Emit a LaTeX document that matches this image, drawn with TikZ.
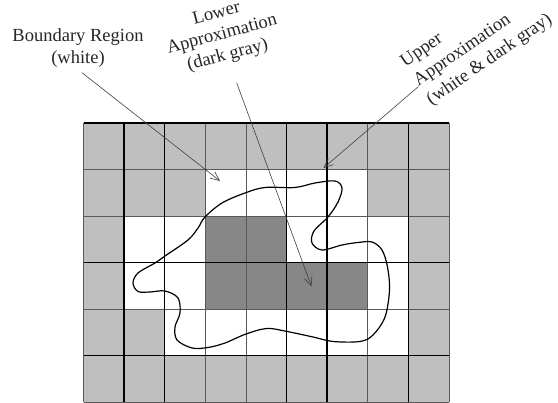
\documentclass[tikz,border=0pt]{standalone}
\usepackage{fontspec}
\setmainfont{Liberation Serif}
\usepackage{tikz}
\usetikzlibrary{arrows.meta}

\colorlet{outgray}{black!25}
\colorlet{bndwhite}{white}
\colorlet{lowdark}{black!47}
\tikzset{
  gridline/.style={draw=black!65,line width=0.8pt},
  gridbold/.style={draw=black,line width=1.4pt},
  pointer/.style={draw=black!75,line width=0.6pt,-{Straight Barb[length=9pt,width=8pt]}},
  regiontext/.style={text=black!85,font=\fontsize{18.5}{#1}\selectfont,inner sep=2pt},
  regiontext/.default=22
}

\begin{document}
\begin{tikzpicture}[x=1pt,y=1pt]
        \useasboundingbox (0,0) rectangle (558,403);
        % cells of the grid
        \foreach \cells [count=\r from 0] in {
            {outgray,outgray,outgray,outgray,outgray,outgray,outgray,outgray,outgray},
            {outgray,outgray,outgray,bndwhite,bndwhite,bndwhite,bndwhite,outgray,outgray},
            {outgray,bndwhite,bndwhite,lowdark,lowdark,bndwhite,bndwhite,bndwhite,outgray},
            {outgray,bndwhite,bndwhite,lowdark,lowdark,lowdark,lowdark,bndwhite,outgray},
            {outgray,outgray,bndwhite,bndwhite,bndwhite,bndwhite,bndwhite,bndwhite,outgray},
            {outgray,outgray,outgray,outgray,outgray,outgray,outgray,outgray,outgray}}
            \foreach \c [count=\k from 0] in \cells
                \fill[fill=\c] (83.5+\k*40.6,280-\r*46.5) rectangle ++(40.6,-46.5);
        % grid lines
        \foreach \i in {0,...,9}
            \draw[gridline] (83.5+\i*40.6,280) -- ++(0,-279);
        \foreach \j in {0,...,6}
            \draw[gridline] (83.5,280-\j*46.5) -- ++(365.4,0);
        \foreach \i in {1,2,5,6,8}
            \draw[gridbold] (83.5+\i*40.6,280) -- ++(0,-279);
        \foreach \j in {0,3,5}
            \draw[gridbold] (83.5,280-\j*46.5) -- ++(365.4,0);
        % the set
        \draw[line width=1.2pt,line join=round] plot[smooth cycle,tension=0.55] coordinates {
            (205,186) (222,200) (245,210) (265,215.5) (295,215.5) (315,220) (335,222)
            (342,215) (338,201) (328,186) (314,172) (312,160) (322,153) (342,158)
            (358,160.5) (372,161) (382,153) (387.5,136) (389.5,113) (385,86) (373,68)
            (360,61.5) (333,61.5) (313,66) (287,71.5) (267,74.5) (246,69) (225,60)
            (208,55.5) (192,55) (177,63) (175,76) (180,90) (178,105) (165,112)
            (150,111) (138,111.5) (133,120) (138,130) (155,140) (165,147) (188,163) (198,175)};
        % labels
        \node[regiontext,align=center] (bnd) at (78,355) {Boundary Region\\(white)};
        \node[regiontext=21.5,align=center,rotate=15] (lower) at (222.2,367.8) {Lower\\Approximation\\(dark gray)};
        \node[regiontext=23,align=left,rotate=34.5,anchor=west] (upper) at (414.3,318.7) {Upper\\Approximation\\(white \& dark gray)};
        % pointers
        \coordinate (uptail) at (418.3,316.3);
        \coordinate (bndtip) at (220,222);
        \coordinate (lowtip) at (311.5,116.5);
        \coordinate (uptip) at (323.5,235);
        \draw[pointer,shorten <=5pt] (bnd.south) -- (bndtip);
        \draw[pointer,shorten <=18pt] (lower.south) -- (lowtip);
        \draw[pointer] (uptail) -- (uptip);
    \end{tikzpicture}
\end{document}
